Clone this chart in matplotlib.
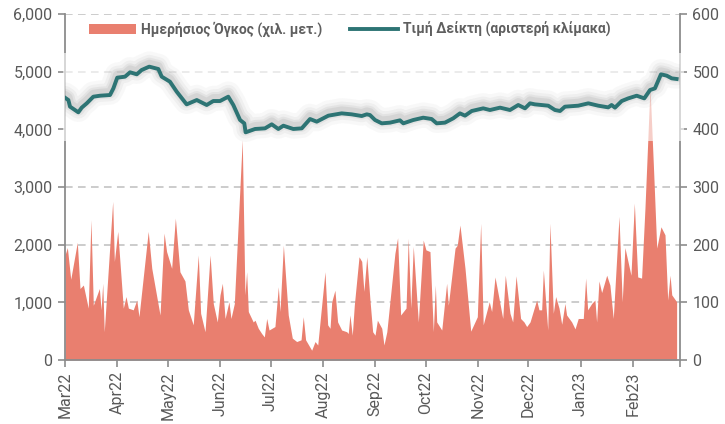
import numpy as np
import pandas as pd
import matplotlib
matplotlib.use("Agg")
import matplotlib.pyplot as plt
import matplotlib.dates as mdates
import matplotlib.transforms as mtransforms
from matplotlib.patches import Rectangle, Patch
from matplotlib.lines import Line2D
from matplotlib.ticker import FuncFormatter, FixedLocator

plt.rcParams['font.family'] = ['Roboto', 'DejaVu Sans']

# ---------------- data ----------------
start_date = '2022-03-01'
# index level (left scale): day offset from start_date, value
idx_day = [0, 2.0, 3.0, 5.9, 7.9, 9.9, 12.9, 16.8, 20.8, 26.7, 28.7, 31.0, 35.6, 38.6,
           42.6, 45.5, 50.0, 55.4, 57.4, 62.3, 66.3, 72.2, 78.2, 84.1, 88.0, 92.0, 96.9,
           99.9, 103.9, 106.4, 107.2, 112.8, 118.7, 122.7, 126.6, 129.6, 135.5, 140.5,
           145.4, 149.4, 156.3, 164.2, 170.1, 176.1, 179.1, 181.0, 184.0, 188.0, 192.9,
           198.8, 200.8, 206.7, 212.6, 217.6, 220.6, 225.5, 230.4, 234.4, 237.4, 241.4,
           248.2, 252.2, 258.2, 264.1, 269.0, 273.0, 276.0, 278.9, 286.8, 290.8, 293.8,
           296.7, 304.6, 310.6, 316.5, 322.4, 324.4, 326.4, 330.4, 334.3, 339.3, 343.8,
           347.2, 350.1, 353.7, 357.1, 360.1, 363.0]
idx_val = [4548, 4508, 4393, 4335, 4295, 4376, 4451, 4566, 4583, 4595, 4710, 4896, 4913, 4989,
           4954, 5029, 5087, 5046, 4913, 4826, 4653, 4433, 4508, 4422, 4491, 4491, 4566,
           4422, 4162, 4104, 3948, 4006, 4017, 4087, 4006, 4063, 4006, 4017,
           4179, 4133, 4237, 4277, 4260, 4231, 4260, 4248, 4162, 4104, 4116,
           4156, 4104, 4162, 4202, 4179, 4104, 4116, 4191, 4277, 4237, 4318,
           4364, 4335, 4376, 4335, 4422, 4364, 4451, 4433, 4410, 4335, 4318,
           4393, 4410, 4451, 4410, 4381, 4422, 4376, 4491, 4537, 4583, 4537,
           4682, 4710, 4954, 4931, 4884, 4873]

# daily volume (thousand shares, right scale): day offset, value
vol_day = [0, 1.4, 3.4, 7.3, 8.9, 10.9, 13.8, 15.4, 16.8, 20.4, 21.4, 22.4, 23.3, 28.3, 29.3,
           31.3, 34.6, 36.2, 37.6, 40.5, 42.6, 43.9, 49.4, 51.5, 56.4, 58.8, 60.3, 63.3,
           65.5, 68.2, 71.2, 73.2, 76.1, 79.1, 80.5, 83.1, 86.1, 88.0, 90.4, 92.0, 93.4,
           95.0, 97.3, 98.5, 100.5, 105.2, 106.8, 107.8, 108.8, 111.7, 112.8, 114.7, 116.7,
           118.3, 119.7, 121.1, 124.6, 126.6, 127.6, 129.6, 132.5, 134.9, 137.5, 140.1,
           141.4, 142.8, 146.4, 148.4, 150.0, 154.3, 155.9, 157.3, 158.3, 160.2, 161.8,
           164.2, 167.2, 168.1, 169.1, 170.5, 171.7, 174.5, 176.1, 177.4, 179.1, 181.0,
           182.6, 184.0, 185.4, 188.0, 189.3, 191.0, 195.8, 197.4, 199.2, 202.4, 203.7,
           205.2, 206.7, 209.7, 212.6, 214.2, 216.6, 218.6, 219.8, 220.6, 223.6, 226.5,
           227.5, 231.5, 232.8, 234.4, 237.4, 240.8, 244.7, 246.7, 248.2, 251.8, 253.2,
           255.2, 259.8, 261.3, 264.1, 265.7, 267.7, 270.4, 272.4, 274.0, 276.0, 279.9,
           281.3, 282.9, 283.9, 286.5, 287.8, 289.8, 291.2, 293.2, 294.8, 296.7, 297.7,
           300.7, 302.7, 304.6, 307.6, 309.0, 310.2, 312.6, 314.5, 315.5, 316.9, 318.5,
           321.5, 323.4, 325.4, 328.8, 330.7, 332.3, 335.9, 337.9, 339.9, 342.2, 344.2,
           347.2, 349.2, 351.2, 353.7, 356.1, 357.7, 359.1, 360.1, 363.0]
vol_val = [182, 195, 140, 204, 124, 130, 90, 243, 95, 124, 87, 133, 49, 275, 171,
           223, 90, 110, 90, 87, 104, 75, 223, 159, 78, 220, 188, 159,
           246, 153, 137, 87, 61, 182, 81, 49, 182, 98, 66, 113, 133,
           72, 101, 72, 98, 382, 113, 153, 84, 66, 69, 55, 46,
           40, 72, 52, 58, 127, 84, 199, 78, 38, 32, 35,
           75, 35, 17, 32, 26, 153, 61, 55, 101, 121, 66,
           52, 49, 46, 78, 43, 95, 179, 171, 119, 179, 104,
           49, 43, 69, 55, 26, 49, 185, 212, 78, 90, 211,
           90, 197, 66, 208, 191, 188, 49, 130, 66, 52, 133,
           95, 194, 199, 234, 159, 50, 75, 237, 61, 101, 84,
           144, 72, 147, 81, 66, 146, 72, 66, 58, 66, 104,
           87, 87, 156, 52, 237, 81, 110, 90, 62, 98, 78,
           66, 54, 72, 72, 142, 87, 98, 104, 66, 137, 117,
           147, 130, 72, 249, 101, 195, 147, 272, 144, 142, 263,
           474, 338, 194, 231, 217, 104, 147, 113, 101]

month_starts = ['2022-03-01', '2022-04-01', '2022-05-01', '2022-06-01', '2022-07-01',
                '2022-08-01', '2022-09-01', '2022-10-01', '2022-11-01', '2022-12-01',
                '2023-01-01', '2023-02-01', '2023-03-01']
month_labels = ['Mar22', 'Apr22', 'May22', 'Jun22', 'Jul22', 'Aug22', 'Sep22', 'Oct22',
                'Nov22', 'Dec22', 'Jan23', 'Feb23', '']
left_ticks = [0, 1000, 2000, 3000, 4000, 5000, 6000]
right_ticks = [0, 100, 200, 300, 400, 500, 600]
label_vol = 'Ημερήσιος Όγκος (χιλ. μετ.)'
label_idx = 'Τιμή Δείκτη (αριστερή κλίμακα)'

# ---------------- plot ----------------
base = pd.Timestamp(start_date)
idx_dates = base + pd.to_timedelta(idx_day, unit='D')
vol_dates = base + pd.to_timedelta(vol_day, unit='D')
mstarts = pd.to_datetime(month_starts)

c_fill = '#E97F6F'
c_line = '#2D7474'
c_grey = '#595959'
c_spine = '#8C8C8C'

fig = plt.figure(figsize=(7.25, 4.24), dpi=100)
ax = fig.add_axes([65/725, 1-360/424, 615/725, 346/424])
ax2 = ax.twinx()
ax.set_zorder(ax2.get_zorder() + 1)
ax.patch.set_visible(False)

# volume (right scale)
ax2.fill_between(vol_dates, 0, vol_val, color=c_fill, lw=0, zorder=2)
ax2.set_ylim(0, 600)
ax2.set_yticks(right_ticks)
ax2.yaxis.grid(True, color='#BFBFBF', linestyle=(0, (5, 3.5)), lw=1.1)
ax2.set_axisbelow(True)
for i, gl in enumerate(ax2.get_ygridlines()):
    if right_ticks[i] in (0, 400):
        gl.set_visible(False)

# light band behind the index line
band = Rectangle((-0.004, 3800), 1.01, 1530, facecolor='white', alpha=0.62, lw=0,
                 zorder=3, clip_on=False,
                 transform=mtransforms.blended_transform_factory(ax.transAxes, ax.transData))
ax.add_patch(band)

# glow around index line
for lw_g, a_g in [(18, 0.04), (13, 0.06), (9, 0.08), (6, 0.1)]:
    tr = mtransforms.offset_copy(ax.transData, fig=fig, x=0, y=2, units='points')
    ax.plot(idx_dates, idx_val, color='#606060', lw=lw_g, alpha=a_g,
            solid_capstyle='round', solid_joinstyle='round', transform=tr, zorder=4)
ax.plot(idx_dates, idx_val, color=c_line, lw=2.8, solid_joinstyle='round', zorder=5)

ax.set_ylim(0, 6000)
ax.set_yticks(left_ticks)
ax.yaxis.set_major_formatter(FuncFormatter(lambda v, p: f'{int(v):,}'))
ax.set_xlim(mstarts[0], mstarts[-1])
ax.xaxis.set_major_locator(FixedLocator(mdates.date2num(mstarts)))
ax.set_xticklabels(month_labels, rotation=90, ha='center', va='top')

for a in (ax, ax2):
    a.spines['top'].set_visible(False)
    for s in ('left', 'right', 'bottom'):
        a.spines[s].set_color(c_spine)
        a.spines[s].set_linewidth(1.3)
    a.tick_params(colors=c_spine, labelcolor=c_grey, labelsize=11.5, length=5, width=1.2)
ax2.spines['left'].set_visible(False)
ax2.spines['bottom'].set_visible(False)
ax.spines['right'].set_visible(False)
ax.tick_params(axis='y', pad=4)
ax2.tick_params(axis='y', pad=4)
ax.tick_params(axis='x', pad=3)

# legend
handles = [Patch(facecolor=c_fill, edgecolor='none'),
           Line2D([0], [0], color=c_line, lw=2.8)]
leg = ax.legend(handles, [label_vol, label_idx], ncol=2, loc='center',
                bbox_to_anchor=(0.463, 0.955), frameon=False,
                prop={'size': 10, 'weight': 'bold'}, handlelength=3.4,
                handleheight=0.75, columnspacing=2.0, handletextpad=0.4)
for t in leg.get_texts():
    t.set_color('#5F5F5F')
leg.set_zorder(10)

fig.savefig('out.png', dpi=100, facecolor='white')
